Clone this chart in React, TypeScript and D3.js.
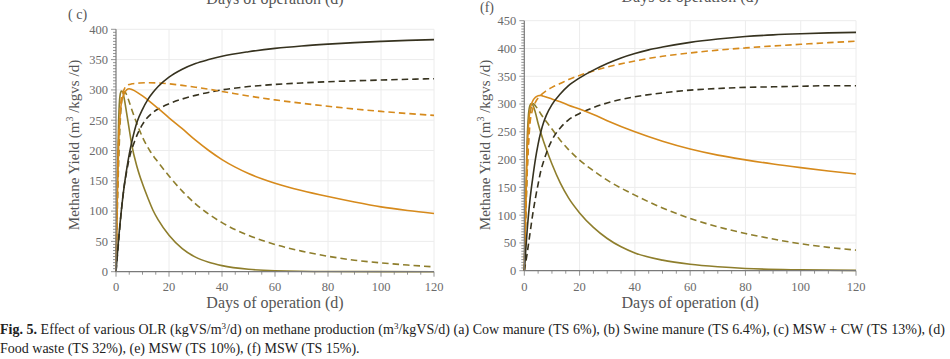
import React from "react";
import * as d3 from "d3";

type Pt = [number, number];

// ---------- Panel (c) data ----------
const cDarkSolid: Pt[] = [[0,0],[1,55],[2,100],[3,138],[4,168],[5,194],[6,215],[8,248],[10,268],[12,284],[14,296],[16,306],[20,321],[25,334],[30,343.5],[35,350],[40,355.5],[50,363],[60,368.5],[70,372.5],[80,375.5],[90,378],[100,380],[110,381.7],[120,383]];
const cDarkDashed: Pt[] = [[0,0],[1,50],[2,100],[3,138],[4,165],[5,187],[7,215],[10,243],[14,263],[17,271],[20,277],[25,285],[30,291],[40,300],[50,305.5],[60,309],[70,311.5],[80,313.5],[90,315],[100,316.3],[110,317.5],[120,318.5]];
const cOrangeDashed: Pt[] = [[0,0],[0.3,80],[0.6,160],[1,220],[1.5,262],[2,285],[3,300],[4,307],[6,310],[9,311.3],[12,311.8],[16,311.5],[20,310],[25,307.5],[30,304.5],[40,297.5],[50,290],[60,283.5],[70,278],[80,273],[90,268.5],[100,264.5],[110,261],[120,258]];
const cOrangeSolid: Pt[] = [[0,0],[0.5,120],[1,210],[1.5,255],[2,278],[3,293],[4,300],[5,302],[6,300.5],[8,296],[10,290],[13,280],[16,269],[20,254],[25,236],[30,217],[35,200],[40,185],[45,172.5],[50,162],[55,153.5],[60,146],[70,134],[80,124],[90,115],[100,107],[110,101],[120,96]];
const cOliveSolid: Pt[] = [[0,0],[0.5,150],[1,250],[1.5,290],[2,298],[2.5,297],[3,288],[4,262],[5,235],[6,208],[8,172],[10,145],[12,122],[14,101],[16,85],[20,60],[25,38],[30,24],[35,15.5],[40,10],[50,4],[60,1.6],[80,0.3],[120,0]];
const cOliveDashed: Pt[] = [[0,0],[0.5,100],[1,180],[1.5,240],[2,275],[2.5,292],[3,297],[3.5,296],[4,292],[5,280],[6,267],[8,243],[10,222],[13,198],[16,180],[20,158],[25,133],[30,112],[40,81],[50,60],[60,45],[70,34],[80,25.5],[90,19],[100,14.5],[110,11],[120,8]];

// ---------- Panel (f) data ----------
const fDarkSolid: Pt[] = [[0,0],[1,70],[2,125],[3,165],[4,200],[5,228],[6,250],[7,267],[8,280],[10,299],[13,318],[16,333],[20,347],[25,361],[30,373],[35,383],[40,391],[45,397.5],[50,402.5],[60,411],[70,417],[80,421.5],[90,424.5],[100,426.5],[110,428],[120,429]];
const fDarkDashed: Pt[] = [[0,0],[1,30],[2,65],[3,100],[4,130],[5,156],[6,180],[7,197],[8,212],[10,235],[13,257],[16,271.5],[20,283],[25,293.5],[30,302],[40,313],[50,320],[60,325],[70,328],[80,330],[90,331],[100,332],[110,333],[120,333]];
const fOrangeDashed: Pt[] = [[0,0],[0.5,100],[1,175],[1.5,225],[2,262],[3,290],[4,303],[6,316],[8,324],[10,330],[13,337],[16,344],[20,351.5],[25,359.5],[30,366.5],[40,377.5],[50,386],[60,392],[70,397],[80,401],[90,404.5],[100,407.5],[110,410.5],[120,413]];
const fOrangeSolid: Pt[] = [[0,0],[0.5,105],[1,210],[1.5,260],[2,287],[3,305],[4,312],[5,315],[6,315.5],[7,314],[10,309],[13,304],[16,298],[20,291],[25,281],[30,270],[40,250],[50,233],[60,219],[70,208],[80,199.5],[90,192],[100,185.5],[110,179.5],[120,174]];
const fOliveSolid: Pt[] = [[0,0],[0.5,130],[1,230],[1.5,280],[2,297],[2.5,301],[3,299],[4,285],[5,265],[6,248],[8,218],[10,192],[13,158],[16,131],[20,104],[25,78],[30,58],[35,43],[40,32],[50,19],[60,11.5],[70,7],[80,4],[100,1.5],[120,0.5]];
const fOliveDashed: Pt[] = [[0,0],[0.5,90],[1,170],[1.5,235],[2,275],[2.5,295],[3,301],[3.5,300],[4,297],[5,290],[6,282],[8,268],[10,255],[13,235],[16,218],[20,199],[25,180],[30,163],[40,136],[50,113],[60,94],[70,79],[80,67],[90,57],[100,48.5],[110,42],[120,37]];

const xTicks = [0, 20, 40, 60, 80, 100, 120];
const cYTicks = [0, 50, 100, 150, 200, 250, 300, 350, 400];
const fYTicks = [0, 50, 100, 150, 200, 250, 300, 350, 400, 450];

const DARK = "#36321f";
const ORANGE = "#d68a1c";
const OLIVE = "#8e7e2c";

interface Series { data: Pt[]; color: string; dashed: boolean }

const cSeries: Series[] = [
  { data: cOliveDashed, color: OLIVE, dashed: true },
  { data: cOliveSolid, color: OLIVE, dashed: false },
  { data: cDarkDashed, color: DARK, dashed: true },
  { data: cOrangeDashed, color: ORANGE, dashed: true },
  { data: cOrangeSolid, color: ORANGE, dashed: false },
  { data: cDarkSolid, color: DARK, dashed: false },
];
const fSeries: Series[] = [
  { data: fOliveDashed, color: OLIVE, dashed: true },
  { data: fOliveSolid, color: OLIVE, dashed: false },
  { data: fDarkDashed, color: DARK, dashed: true },
  { data: fOrangeDashed, color: ORANGE, dashed: true },
  { data: fOrangeSolid, color: ORANGE, dashed: false },
  { data: fDarkSolid, color: DARK, dashed: false },
];

const SERIF = "'Liberation Serif', 'DejaVu Serif', serif";
const TICK_COLOR = "#6b6b6b";

interface PanelProps {
  x0: number; x1: number; yBottom: number; yTop: number; yMax: number;
  yTicks: number[]; series: Series[]; label: string; labelX: number; labelY: number;
  titleTopY: number; yTitleX: number;
}

function Panel(p: PanelProps) {
  const x = d3.scaleLinear().domain([0, 120]).range([p.x0, p.x1]);
  const y = d3.scaleLinear().domain([0, p.yMax]).range([p.yBottom, p.yTop]);
  const line = d3.line<Pt>().x(d => x(d[0])).y(d => y(d[1])).curve(d3.curveMonotoneX);
  const xMinor = d3.range(0, 121, 5);
  const yMinor = d3.range(0, p.yMax + 0.1, 5);
  const cx = (p.x0 + p.x1) / 2;
  return (
    <g>
      {xTicks.filter(t => t > 0).map(t => (
        <line key={"gx" + t} x1={x(t)} x2={x(t)} y1={y(0)} y2={y(p.yMax)} stroke="#ececec" strokeWidth={1} />
      ))}
      {p.yTicks.filter(t => t > 0).map(t => (
        <line key={"gy" + t} x1={x(0)} x2={x(120)} y1={y(t)} y2={y(t)} stroke="#ececec" strokeWidth={1} />
      ))}
      {p.series.map((s, i) => (
        <path key={i} d={line(s.data) || ""} fill="none" stroke={s.color} strokeWidth={1.6}
          strokeDasharray={s.dashed ? "6.5,4" : undefined} />
      ))}
      <line x1={x(0)} x2={x(0)} y1={y(0)} y2={y(p.yMax)} stroke="#7a7a7a" strokeWidth={1.2} />
      <line x1={x(0)} x2={x(120)} y1={y(0)} y2={y(0)} stroke="#7a7a7a" strokeWidth={1.2} />
      {yMinor.map(t => (
        <line key={"ym" + t} x1={x(0) - (t % 50 === 0 ? 5 : 3)} x2={x(0)} y1={y(t)} y2={y(t)} stroke="#7a7a7a" strokeWidth={0.8} />
      ))}
      {xMinor.map(t => (
        <line key={"xm" + t} x1={x(t)} x2={x(t)} y1={y(0)} y2={y(0) + (t % 20 === 0 ? 5 : 3)} stroke="#7a7a7a" strokeWidth={0.8} />
      ))}
      {p.yTicks.map(t => (
        <text key={"yl" + t} x={x(0) - 8} y={y(t)} dy="0.35em" textAnchor="end" fontFamily={SERIF} fontSize={12.5} fill={TICK_COLOR}>{t}</text>
      ))}
      {xTicks.map(t => (
        <text key={"xl" + t} x={x(t)} y={291} textAnchor="middle" fontFamily={SERIF} fontSize={12.5} fill={TICK_COLOR}>{t}</text>
      ))}
      <text x={cx} y={308} textAnchor="middle" fontFamily={SERIF} fontSize={16} fill="#555">Days of operation (d)</text>
      <text x={cx} y={p.titleTopY} textAnchor="middle" fontFamily={SERIF} fontSize={16} fill="#555">Days of operation (d)</text>
      <text transform={`translate(${p.yTitleX},145) rotate(-90)`} textAnchor="middle" fontFamily={SERIF} fontSize={15} fill="#555">
        Methane Yield (m<tspan dy={-6} fontSize={10}>3</tspan><tspan dy={6}> /kgvs /d)</tspan>
      </text>
      <text x={p.labelX} y={p.labelY} fontFamily={SERIF} fontSize={14} fill="#555">{p.label}</text>
    </g>
  );
}

export default function App() {
  return (
    <div style={{ position: "absolute", left: 0, top: 0 }}>
      <svg width={950} height={359} style={{ display: "block", background: "#fff" }}>
        <Panel x0={116} x1={434} yBottom={271.7} yTop={29.3} yMax={400} yTicks={cYTicks}
          series={cSeries} label="( c)" labelX={68} labelY={19} titleTopY={3.5} yTitleX={79} />
        <Panel x0={524.3} x1={856} yBottom={270.7} yTop={20.7} yMax={450} yTicks={fYTicks}
          series={fSeries} label="(f)" labelX={480} labelY={12} titleTopY={1.5} yTitleX={490} />
        <text x={0} y={334} fontFamily={SERIF} fontSize={14} fill="#222" textLength={945} lengthAdjust="spacing">
          <tspan fontWeight="bold">Fig. 5.</tspan>{"  Effect of various OLR (kgVS/m"}<tspan dy={-5} fontSize={9}>3</tspan><tspan dy={5}>{"/d) on methane production (m"}</tspan><tspan dy={-5} fontSize={9}>3</tspan><tspan dy={5}>{"/kgVS/d) (a) Cow manure (TS 6%), (b) Swine manure (TS 6.4%), (c) MSW + CW (TS 13%), (d)"}</tspan>
        </text>
        <text x={0} y={353} fontFamily={SERIF} fontSize={14} fill="#222">
          Food waste (TS 32%), (e) MSW (TS 10%), (f) MSW (TS 15%).
        </text>
      </svg>
    </div>
  );
}
